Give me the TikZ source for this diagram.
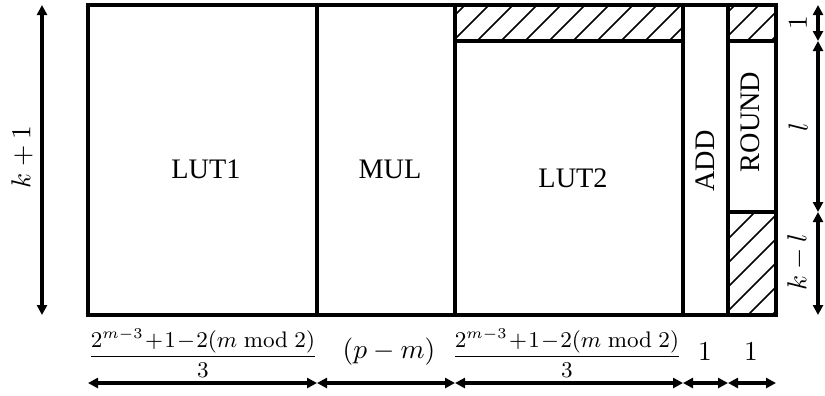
\documentclass[tikz,border=0pt]{standalone}
\usepackage[no-math]{fontspec}
\setmainfont{Liberation Serif}
\usetikzlibrary{arrows.meta}
\begin{document}
\begin{tikzpicture}[x=0.4pt,y=-0.4pt,
  box/.style={line width=1.25pt},
  dim/.style={line width=1.3pt,{Triangle[length=4pt,width=4pt]}-{Triangle[length=4pt,width=4pt]}},
  hatch/.style={line width=0.65pt},
  lbl/.style={font=\fontsize{11.3}{13}\selectfont,inner sep=0pt},
  fraclbl/.style={font=\fontsize{8.9}{11}\selectfont,inner sep=0pt}]
\useasboundingbox (0,0) rectangle (825,395);
% hatching
\begin{scope}
  \clip (455,5) rectangle (683,41);
  \foreach \c in {470,494,...,760} \draw[hatch] (\c-41,41) -- (\c-5,5);
\end{scope}
\begin{scope}
  \clip (728,5) rectangle (776,41);
  \foreach \c in {740,764,...,851} \draw[hatch] (\c-41,41) -- (\c-5,5);
\end{scope}
\begin{scope}
  \clip (728,212) rectangle (776,315);
  \foreach \c in {943,967,...,1127} \draw[hatch] (\c-315,315) -- (\c-212,212);
\end{scope}
% boxes
\draw[box] (88,5) rectangle (776,315);
\draw[box] (317,5) -- (317,315);
\draw[box] (455,5) -- (455,315);
\draw[box] (683,5) -- (683,315);
\draw[box] (728,5) -- (728,315);
\draw[box] (455,41) -- (683,41);
\draw[box] (728,41) -- (776,41);
\draw[box] (728,212) -- (776,212);
% labels in boxes
\node[lbl] (lut1) at (206,169) {LUT1};
\node[lbl] (mul) at (390,169) {MUL};
\node[lbl] (lut2) at (573,178) {LUT2};
\node[lbl,rotate=90] (add) at (705,161) {ADD};
\node[lbl,rotate=90] (round) at (750,122) {ROUND};
% dimension coordinates
\coordinate (L1) at (42,5);
\coordinate (L2) at (42,315);
\coordinate (R0) at (818,5);
\coordinate (R1) at (818,41);
\coordinate (R2) at (818,212);
\coordinate (R3) at (818,315);
\coordinate (B0) at (88,383);
\coordinate (B1) at (317,383);
\coordinate (B2) at (455,383);
\coordinate (B3) at (683,383);
\coordinate (B4) at (728,383);
\coordinate (B5) at (776,383);
\draw[dim] (L1) -- (L2);
\draw[dim] (R0) -- (R1);
\draw[dim] (R1) -- (R2);
\draw[dim] (R2) -- (R3);
\draw[dim] (B0) -- (B1);
\draw[dim] (B1) -- (B2);
\draw[dim] (B2) -- (B3);
\draw[dim] (B3) -- (B4);
\draw[dim] (B4) -- (B5);
% dimension labels
\node[lbl,rotate=90] (kp1) at (22,157) {$k+1$};
\node[lbl,rotate=90] (one) at (798,23) {$1$};
\node[lbl,rotate=90] (ell) at (798,127) {$l$};
\node[lbl,rotate=90] (kml) at (798,262) {$k-l$};
\node[fraclbl] (f1) at (203,353) {$\displaystyle\frac{2^{m-3}\!+\!1\!-\!2(m \bmod 2)}{3}$};
\node[lbl] (pm) at (389,352) {$(p-m)$};
\node[fraclbl] (f2) at (567,353) {$\displaystyle\frac{2^{m-3}\!+\!1\!-\!2(m \bmod 2)}{3}$};
\node[lbl] (o1) at (705,352) {$1$};
\node[lbl] (o2) at (751,352) {$1$};
\end{tikzpicture}
\end{document}
